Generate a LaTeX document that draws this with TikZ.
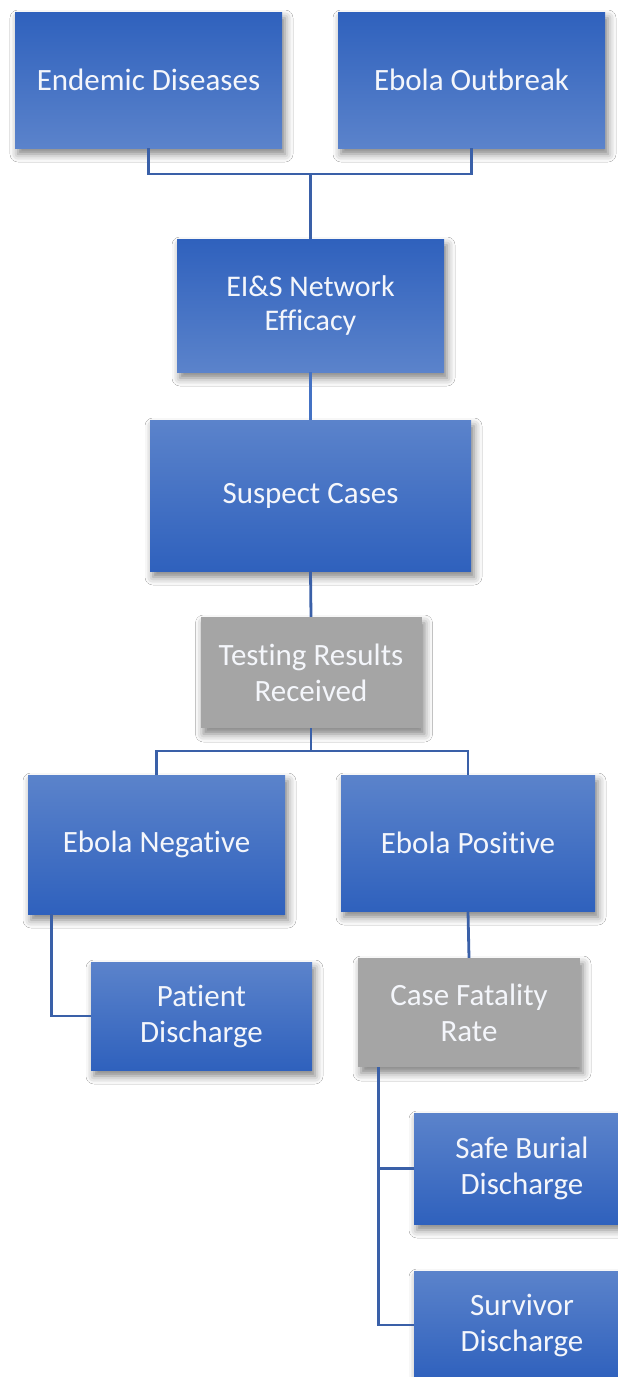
\documentclass[tikz,border=0pt]{standalone}
\usepackage{fontspec}
\setmainfont{Carlito}[Ligatures={NoCommon,NoRare}]
\usetikzlibrary{shadows.blur}
\definecolor{bdark}{HTML}{2F61BD}
\definecolor{blight}{HTML}{5B83CB}
\definecolor{gbox}{HTML}{A5A5A5}
\definecolor{conn}{HTML}{3A60A8}
\definecolor{connl}{HTML}{4472C4}
\definecolor{txt}{HTML}{F4F6FB}
\tikzset{
  box/.style={rectangle, inner sep=0pt, align=center, text=txt,
    font=\fontsize{31}{36}\selectfont,
    blur shadow={shadow xshift=3pt, shadow yshift=-6pt, shadow blur radius=8pt, shadow opacity=50}},
  bluedown/.style={box, top color=bdark, bottom color=blight},
  blueup/.style={box, top color=blight, bottom color=bdark},
  graybox/.style={box, fill=gbox},
  link/.style={draw=conn, line width=2.8pt},
}
\begin{document}
\begin{tikzpicture}[x=1pt, y=-1pt]
\clip (0,0) rectangle (618,1377);
\fill[white] (0,0) rectangle (618,1377);
% nodes
\node[bluedown, minimum width=267pt, minimum height=136pt] (ed) at (148.5,80) {Endemic Diseases};
\node[bluedown, minimum width=267pt, minimum height=136pt] (eo) at (471.5,80) {Ebola Outbreak};
\node[bluedown, minimum width=267pt, minimum height=133pt, font=\fontsize{30}{34}\selectfont] (eis) at (310.5,305.5) {EI\&S Network\\Efficacy};
\node[blueup, minimum width=321pt, minimum height=151pt] (sc) at (310.5,495.5) {Suspect Cases};
\node[graybox, minimum width=221pt, minimum height=111pt] (tr) at (311,672.5) {Testing Results\\Received};
\node[blueup, minimum width=257pt, minimum height=139pt] (en) at (156.5,844.5) {Ebola Negative};
\node[blueup, minimum width=254pt, minimum height=136pt] (ep) at (468,843) {Ebola Positive};
\node[blueup, minimum width=221pt, minimum height=108pt] (pd) at (201.5,1016) {Patient\\Discharge};
\node[graybox, minimum width=222pt, minimum height=109pt] (cf) at (469,1012.5) {Case Fatality\\Rate};
\node[blueup, minimum width=216pt, minimum height=111pt] (sb) at (522,1168.5) {Safe Burial\\Discharge};
\node[blueup, minimum width=216pt, minimum height=108pt] (sv) at (522,1325) {Survivor\\Discharge};
% junctions
\coordinate (j1) at (310.5,174);
\coordinate (j2) at (311,751);
% connectors
\draw[link] (ed.south) |- (j1) -| (eo.south);
\draw[link] (j1) -- (eis.north);
\draw[link, draw=connl] (eis.south) -- (sc.north);
\draw[link] (sc.south) -- (tr.north);
\draw[link] (tr.south) -- (j2);
\draw[link] (en.north) |- (j2) -| (ep.north);
\draw[link] ([xshift=24pt]en.south west) |- (pd.west);
\draw[link] (ep.south) -- (cf.north);
\draw[link] ([xshift=21pt]cf.south west) |- (sb.west);
\draw[link] ([xshift=21pt]cf.south west) |- (sv.west);
\end{tikzpicture}
\end{document}
